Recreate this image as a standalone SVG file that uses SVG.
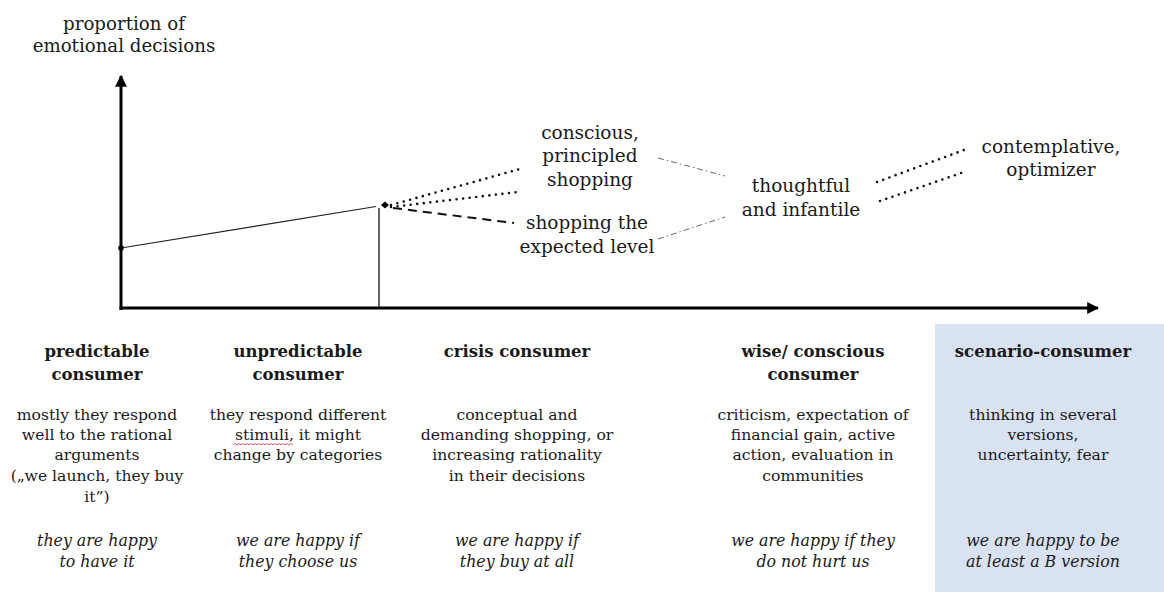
<svg xmlns="http://www.w3.org/2000/svg" width="1164" height="592" viewBox="0 0 1164 592">
<defs>
<marker id="arr" viewBox="0 0 10 10" refX="9" refY="5" markerWidth="4" markerHeight="4" orient="auto" markerUnits="strokeWidth">
<path d="M0,0 L10,5 L0,10 z" fill="#000"/>
</marker>
<style>
text{font-family:"DejaVu Serif","Liberation Serif",serif;fill:#1a1a1a;text-anchor:middle}
.top{font-size:18.2px}
.lbl{font-size:18.5px}
.hd{font-size:16.5px;font-weight:bold}
.ds{font-size:15.6px}
.it{font-size:15.8px;font-style:italic}
.dot{stroke:#111;stroke-width:2.6;stroke-linecap:round;stroke-dasharray:0 6.6;fill:none}
.dash{stroke:#111;stroke-width:2;stroke-dasharray:9 6;fill:none}
.dd{stroke:#666;stroke-width:1;stroke-dasharray:6 3 1.5 3;fill:none}
</style>
</defs>
<rect x="935" y="324" width="229" height="268" fill="#D9E2F3"/>
<g id="axes">
<line x1="121" y1="310" x2="121" y2="76" stroke="#000" stroke-width="3" marker-end="url(#arr)"/>
<line x1="119.5" y1="308" x2="1098" y2="308" stroke="#000" stroke-width="3" marker-end="url(#arr)"/>
<text class="top" x="124" y="30">proportion of</text>
<text class="top" x="124" y="52">emotional decisions</text>
</g>
<g id="connectors">
<line x1="121" y1="248" x2="376" y2="206.5" stroke="#222" stroke-width="1.2"/>
<line x1="379" y1="208" x2="379" y2="308" stroke="#000" stroke-width="1.2"/>
<circle cx="121" cy="248" r="2.8" fill="#000"/>
<path d="M381,205 L385,201.5 L389,205 L385,208.5 z" fill="#000"/>
<path class="dot" d="M391,205 L520,169"/>
<path class="dot" d="M391,207 L518,192"/>
<path class="dash" d="M393,208 L514,223"/>
<path class="dd" d="M658,158 L725,176"/>
<path class="dd" d="M658,239 L725,217"/>
<path class="dot" d="M877,182 L964,150"/>
<path class="dot" d="M880,201 L967,171"/>
</g>
<g id="n-conscious"><text class="lbl" x="590" y="139">conscious,</text><text class="lbl" x="590" y="162">principled</text><text class="lbl" x="590" y="186">shopping</text></g>
<g id="n-expected"><text class="lbl" x="587" y="229">shopping the</text><text class="lbl" x="587" y="253">expected level</text></g>
<g id="n-thoughtful"><text class="lbl" x="801" y="192">thoughtful</text><text class="lbl" x="801" y="216">and infantile</text></g>
<g id="n-contemplative"><text class="lbl" x="1051" y="153">contemplative,</text><text class="lbl" x="1051" y="176">optimizer</text></g>
<g id="col-predictable">
<text class="hd" x="97" y="357">predictable</text><text class="hd" x="97" y="380">consumer</text>
<text class="ds" x="97" y="420">mostly they respond</text><text class="ds" x="97" y="440">well to the rational</text><text class="ds" x="97" y="460">arguments</text><text class="ds" x="97" y="481">(„we launch, they buy</text><text class="ds" x="97" y="502">it”)</text>
<text class="it" x="97" y="546">they are happy</text><text class="it" x="97" y="567">to have it</text>
</g>
<g id="col-unpredictable">
<text class="hd" x="298" y="357">unpredictable</text><text class="hd" x="298" y="380">consumer</text>
<text class="ds" x="298" y="420">they respond different</text><text class="ds" x="298" y="440">stimuli, it might</text><text class="ds" x="298" y="460">change by categories</text>
<path d="M233,445 l2,-1.5 l2,1.5 l2,-1.5 l2,1.5 l2,-1.5 l2,1.5 l2,-1.5 l2,1.5 l2,-1.5 l2,1.5 l2,-1.5 l2,1.5 l2,-1.5 l2,1.5 l2,-1.5 l2,1.5 l2,-1.5 l2,1.5 l2,-1.5 l2,1.5 l2,-1.5 l2,1.5 l2,-1.5 l2,1.5 l2,-1.5 l2,1.5 l2,-1.5 l2,1.5 l2,-1.5 l2,1.5" fill="none" stroke="#e03030" stroke-width="0.8"/>
<text class="it" x="298" y="546">we are happy if</text><text class="it" x="298" y="567">they choose us</text>
</g>
<g id="col-crisis">
<text class="hd" x="517" y="357">crisis consumer</text>
<text class="ds" x="517" y="420">conceptual and</text><text class="ds" x="517" y="440">demanding shopping, or</text><text class="ds" x="517" y="460">increasing rationality</text><text class="ds" x="517" y="481">in their decisions</text>
<text class="it" x="517" y="546">we are happy if</text><text class="it" x="517" y="567">they buy at all</text>
</g>
<g id="col-wise">
<text class="hd" x="813" y="357">wise/ conscious</text><text class="hd" x="813" y="380">consumer</text>
<text class="ds" x="813" y="420">criticism, expectation of</text><text class="ds" x="813" y="440">financial gain, active</text><text class="ds" x="813" y="460">action, evaluation in</text><text class="ds" x="813" y="481">communities</text>
<text class="it" x="813" y="546">we are happy if they</text><text class="it" x="813" y="567">do not hurt us</text>
</g>
<g id="col-scenario">
<text class="hd" x="1043" y="357">scenario-consumer</text>
<text class="ds" x="1043" y="420">thinking in several</text><text class="ds" x="1043" y="440">versions,</text><text class="ds" x="1043" y="460">uncertainty, fear</text>
<text class="it" x="1043" y="546">we are happy to be</text><text class="it" x="1043" y="567">at least a B version</text>
</g>
</svg>
